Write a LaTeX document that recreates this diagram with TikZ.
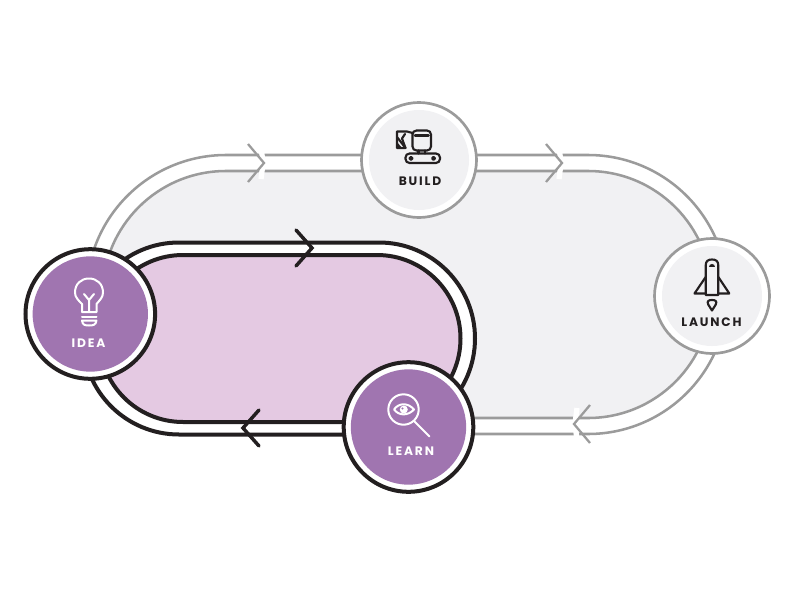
\documentclass[tikz,border=0pt]{standalone}
\usepackage{fontspec}
\setmainfont{Poppins}
\definecolor{pur}{HTML}{A075B0}
\definecolor{lpur}{HTML}{E4C9E2}
\definecolor{gline}{HTML}{9B9B9B}
\definecolor{gfill}{HTML}{F1F1F3}
\definecolor{ink}{HTML}{231F20}
\newcommand{\stadium}[4]{(#1,{#3-#4}) -- (#2,{#3-#4}) arc[start angle=-90,end angle=90,radius=#4] -- (#1,{#3+#4}) arc[start angle=90,end angle=270,radius=#4] -- cycle}
\tikzset{
  x=0.75pt,y=-0.75pt,
  greyline/.style={draw=gline,line width=1.9pt},
  blackline/.style={draw=ink,line width=3pt},
  chevg/.style={draw=gline,line width=1.7pt,line join=miter},
  chevb/.style={draw=ink,line width=2.6pt,line cap=round,line join=miter},
  halo/.style={draw=white,line width=4pt},
  greycirc/.style={circle,draw=gline,line width=2pt,fill=white,minimum size=86.2pt,inner sep=0pt},
  blackcirc/.style={circle,draw=ink,line width=3pt,fill=white,minimum size=97.2pt,inner sep=0pt},
  greydisc/.style={circle,fill=gfill,minimum size=75pt,inner sep=0pt},
  purdisc/.style={circle,fill=pur,minimum size=86.5pt,inner sep=0pt},
  lab/.style={font=\fontsize{9.2pt}{10pt}\selectfont\bfseries\addfontfeature{LetterSpace=15},inner sep=0pt,anchor=center},
  ikb/.style={draw=ink,line width=1.6pt,line join=round,line cap=round},
  ikw/.style={draw=white,line width=1.5pt,line join=round,line cap=round},
}
\begin{document}
\begin{tikzpicture}
\useasboundingbox (0,0) rectangle (800,600);
% grey loop
\path[fill=white,greyline] \stadium{226}{588}{294.5}{139.5};
\path[fill=gfill,greyline] \stadium{226}{588}{294.5}{123.5};
% purple loop
\path[fill=white,blackline] \stadium{179}{379}{338.5}{96};
\path[fill=lpur,blackline] \stadium{183}{377}{338.5}{83.5};
% chevrons
\coordinate (g1) at (264,163);
\coordinate (g2) at (562,163);
\coordinate (g3) at (574,424);
\coordinate (b1) at (312,248);
\coordinate (b2) at (243,428);
\draw[halo] ([shift={(-3,-16)}]g1) -- ([shift={(-1,0)}]g1) -- ([shift={(-3,16)}]g1);
\draw[halo] ([shift={(-3,-16)}]g2) -- ([shift={(-1,0)}]g2) -- ([shift={(-3,16)}]g2);
\draw[halo] ([shift={(3,-16)}]g3) -- ([shift={(1,0)}]g3) -- ([shift={(3,16)}]g3);
\draw[chevg] ([shift={(-16,-19)}]g1) -- (g1) -- ([shift={(-16,19)}]g1);
\draw[chevg] ([shift={(-16,-19)}]g2) -- (g2) -- ([shift={(-16,19)}]g2);
\draw[chevg] ([shift={(16,-19)}]g3) -- (g3) -- ([shift={(16,19)}]g3);
\draw[chevb] ([shift={(-16,-18)}]b1) -- (b1) -- ([shift={(-16,18)}]b1);
\draw[chevb] ([shift={(16,-18)}]b2) -- (b2) -- ([shift={(16,18)}]b2);
% BUILD
\node[greycirc] (build) at (419,160) {};
\node[greydisc] (builddisc) at (419,160) {};
\node[lab,text=ink] (buildlab) at (420,181.5) {BUILD};
\draw[ikb,rounded corners=3pt] (405.5,153.5) rectangle (440,163);
\draw[ikb] (411,158.3) circle[radius=1.5] (433.5,158.3) circle[radius=1.5];
\draw[ikb] (418.5,150.5) -- (418.5,153.5) (425,150.5) -- (425,153.5);
\draw[ikb,rounded corners=3pt] (412.5,130.5) rectangle (431,150.5);
\draw[ikb,line width=2pt] (415,135.5) -- (428.5,135.5);
\draw[ikb] (412.5,133) -- (407,131.5) -- (397,131.5) -- (397,148) -- (405.5,148) -- (402,138.5) -- (405,134);
\draw[ikb] (397,137) -- (405.5,148);
\path[fill=ink] (397,148) -- (402,148) -- (397,142) -- cycle;
% LAUNCH
\node[greycirc] (launch) at (712,296) {};
\node[greydisc] (launchdisc) at (712,296) {};
\node[lab,text=ink] (launchlab) at (711.5,322) {LAUNCH};
\draw[ikb] (705.7,295) -- (705.7,265.5) .. controls (705.7,261) and (708,259.5) .. (712,259.5) .. controls (716,259.5) and (718.3,261) .. (718.3,265.5) -- (718.3,295) -- cycle;
\draw[ikb] (705.7,277) -- (694.5,293.5) -- (705.7,293.5) (718.3,277) -- (729.3,293.5) -- (718.3,293.5);
\path[fill=ink] (709,266.5) .. controls (709,263) and (715,263) .. (715,266.5) -- cycle;
\draw[ikb] (712,310.5) -- (708.2,304.5) .. controls (706.8,301) and (708.5,300) .. (712,300) .. controls (715.5,300) and (717.2,301) .. (715.8,304.5) -- cycle;
% IDEA
\node[blackcirc] (idea) at (90.3,314) {};
\node[purdisc] (ideadisc) at (90.3,314) {};
\node[lab,text=white] (idealab) at (88.5,343) {IDEA};
\draw[ikw] (82,312) -- (82,304) .. controls (78,300) and (75,297) .. (75,292.5) .. controls (75,284) and (81,278.5) .. (89,278.5) .. controls (97,278.5) and (103,284) .. (103,292.5) .. controls (103,297) and (100,300) .. (96.5,304) -- (96.5,312) -- cycle;
\draw[ikw] (84,294) -- (89,300) -- (94,294) (89,300) -- (89,311);
\draw[ikw] (82,316.5) -- (96.5,316.5);
\draw[ikw] (82,320.5) -- (96.5,320.5) .. controls (96,325) and (93,325.5) .. (89,325.5) .. controls (85,325.5) and (82.5,325) .. (82,320.5) -- cycle;
% LEARN
\node[blackcirc] (learn) at (408.5,427) {};
\node[purdisc] (learndisc) at (408.5,427) {};
\node[lab,text=white] (learnlab) at (411,451.5) {LEARN};
\draw[ikw] (403.5,409.5) circle[radius=15.2];
\draw[ikw] (414.5,421.5) -- (429.5,436.5);
\draw[ikw] (394,409.5) .. controls (399,402.5) and (408,402.5) .. (414,409.5) .. controls (408,416) and (399,416) .. (394,409.5) -- cycle;
\path[fill=white] (403.8,409.5) circle[radius=4];
\path[fill=pur] (402.5,408.5) circle[radius=1.1];
\end{tikzpicture}
\end{document}
